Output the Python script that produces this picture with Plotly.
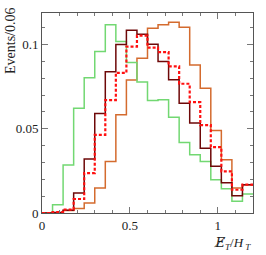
import plotly.graph_objects as go

bin_edges = [0.0, 0.06, 0.12, 0.18, 0.24, 0.30, 0.36, 0.42, 0.48, 0.54, 0.60,
             0.66, 0.72, 0.78, 0.84, 0.90, 0.96, 1.02, 1.08, 1.14, 1.20]

green_vals = [0.0, 0.0049, 0.0285, 0.0622, 0.0802, 0.0958, 0.1117, 0.1018, 0.0893, 0.0777,
              0.0668, 0.0672, 0.0568, 0.0419, 0.0346, 0.0306, 0.0198, 0.0144, 0.0069, 0.0113]
darkred_vals = [0.0, 0.0003, 0.0016, 0.0119, 0.0320, 0.0591, 0.0838, 0.1000, 0.1085, 0.1061,
                0.1002, 0.0899, 0.0791, 0.0652, 0.0534, 0.0385, 0.0277, 0.0180, 0.0103, 0.0168]
red_vals = [0.0, 0.0005, 0.0020, 0.0083, 0.0237, 0.0464, 0.0670, 0.0832, 0.0988, 0.1053,
            0.0982, 0.0955, 0.0870, 0.0767, 0.0658, 0.0522, 0.0391, 0.0247, 0.0138, 0.0168]
orange_vals = [0.0, 0.0, 0.0015, 0.0026, 0.0059, 0.0148, 0.0306, 0.0583, 0.0790, 0.0919,
               0.1097, 0.1117, 0.1132, 0.1103, 0.0879, 0.0741, 0.0490, 0.0316, 0.0148, 0.0168]

x_ticks = [0, 0.5, 1]
x_tick_text = ["0", "0.5", "1"]
y_ticks = [0, 0.05, 0.1]
y_tick_text = ["0", "0.05", "0.1"]

series = [
    (orange_vals, "#d46b2e", 1.5, "solid"),
    (green_vals, "#72d872", 1.5, "solid"),
    (darkred_vals, "#6e0808", 1.5, "solid"),
    (red_vals, "#ff1010", 2.2, "3px,2px"),
]

fig = go.Figure()
for vals, col, w, dash in series:
    fig.add_trace(go.Scatter(
        x=bin_edges, y=vals + [vals[-1]], mode="lines",
        line=dict(color=col, width=w, shape="hv", dash=dash),
        showlegend=False, hoverinfo="skip"))

font_family = "Liberation Serif"
axis_common = dict(
    showgrid=False, zeroline=False, showline=True, linecolor="#555555", linewidth=1,
    mirror="ticks", ticks="inside", tickcolor="#777777", ticklen=6, tickwidth=1,
    tickfont=dict(family=font_family, size=13, color="#222222"),
)
fig.update_xaxes(range=[0, 1.2], tickvals=x_ticks, ticktext=x_tick_text,
                 minor=dict(ticks="inside", dtick=0.1, tick0=0, ticklen=3, tickcolor="#777777"),
                 **axis_common)
fig.update_yaxes(range=[0, 0.1187], tickvals=y_ticks, ticktext=y_tick_text,
                 minor=dict(ticks="inside", dtick=0.01, tick0=0, ticklen=3, tickcolor="#777777"),
                 **axis_common)

fig.add_annotation(text="Events/0.06", xref="paper", yref="paper", x=0, y=1,
                   xanchor="right", yanchor="top", textangle=-90, xshift=-22, yshift=8,
                   showarrow=False, font=dict(family=font_family, size=14, color="#222222"))
fig.add_annotation(text="<span style=\"font-family:'DejaVu Serif'\"><i>E\u0338</i></span>"
                        "<sub><i>T</i></sub>/<i>H</i><sub> <i>T</i></sub>",
                   xref="paper", yref="paper", x=1, y=0, xanchor="right", yanchor="top",
                   yshift=-20, showarrow=False,
                   font=dict(family=font_family, size=13, color="#222222"))

fig.update_layout(width=266, height=255, margin=dict(l=42, r=13, t=13, b=42),
                  plot_bgcolor="white", paper_bgcolor="white")
fig.write_html("out.html", config={"displayModeBar": False},
               post_script="document.body.style.margin='0';document.body.style.overflow='hidden';")
